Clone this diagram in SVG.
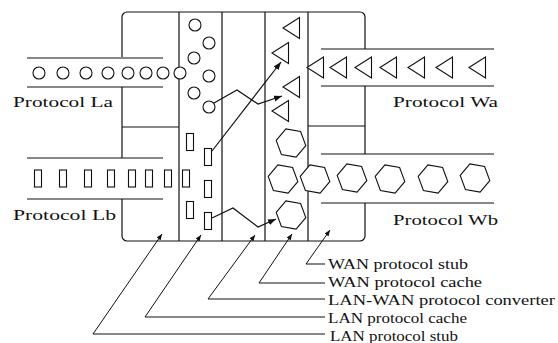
<svg xmlns="http://www.w3.org/2000/svg" xmlns:xlink="http://www.w3.org/1999/xlink" width="558" height="343" viewBox="0 0 558 343">
<style>
.ln{fill:none;stroke:#111;stroke-width:1.2}
.thin{fill:none;stroke:#111;stroke-width:1}
.sh{fill:#fff;stroke:#111;stroke-width:1.1}
.t{font-family:"Liberation Serif","Times New Roman",serif;font-size:15px;fill:#111}
</style>
<defs>
<marker id="ah" markerWidth="9" markerHeight="7" refX="8" refY="3" orient="auto" markerUnits="userSpaceOnUse"><path d="M0,0 L8,3 L0,6 z" fill="#111"/></marker>
<marker id="ahs" markerWidth="7" markerHeight="5" refX="6" refY="2.5" orient="auto" markerUnits="userSpaceOnUse"><path d="M0,0 L6,2.5 L0,5 z" fill="#111"/></marker>
<circle id="cir" r="6" class="sh"/>
<rect id="rc" x="-3.5" y="-8.5" width="7" height="17" class="sh"/>
<polygon id="tri" points="0,0 16.5,-10.5 16.5,10.5" class="sh"/>
<polygon id="hex" points="14.8,2.6 5.1,14.1 -9.6,11.5 -14.8,-2.6 -5.1,-14.1 9.6,-11.5" class="sh"/>
</defs>

<g id="frame">
<path class="ln" d="M122,57 V17 A5,5 0 0 1 127,12 H360 A5,5 0 0 1 365,17 V49 M365,86 V154 M365,203 V236 A5,5 0 0 1 360,241 H127 A5,5 0 0 1 122,236 V199 M122,158 V87"/>
<path class="ln" d="M179,12 V241 M222,12 V241 M265,12 V241 M308,12 V241 M122,127 H179 M308,126 H365"/>
</g>

<g id="protocol-la">
<path class="ln" d="M27,58 H163 M27,87 H163"/>
<use xlink:href="#cir" x="39" y="73"/><use xlink:href="#cir" x="63" y="73"/><use xlink:href="#cir" x="86" y="73"/><use xlink:href="#cir" x="108" y="73"/><use xlink:href="#cir" x="128" y="73"/><use xlink:href="#cir" x="146" y="73"/><use xlink:href="#cir" x="163" y="73"/><use xlink:href="#cir" x="180" y="73"/>
<text class="t" x="13" y="107" textLength="100" lengthAdjust="spacingAndGlyphs">Protocol La</text>
</g>

<g id="protocol-lb">
<path class="ln" d="M27,158 H163 M27,199 H163"/>
<use xlink:href="#rc" x="38" y="178.5"/><use xlink:href="#rc" x="63" y="178.5"/><use xlink:href="#rc" x="88" y="178.5"/><use xlink:href="#rc" x="111" y="178.5"/><use xlink:href="#rc" x="132" y="178.5"/><use xlink:href="#rc" x="149" y="178.5"/><use xlink:href="#rc" x="168" y="178.5"/><use xlink:href="#rc" x="186" y="178.5"/>
<text class="t" x="13" y="220" textLength="103" lengthAdjust="spacingAndGlyphs">Protocol Lb</text>
</g>

<g id="protocol-wa">
<path class="ln" d="M321,49 H494 M321,86 H494"/>
<use xlink:href="#tri" x="307" y="67.5"/><use xlink:href="#tri" x="330" y="67.5"/><use xlink:href="#tri" x="355" y="67.5"/><use xlink:href="#tri" x="380" y="67.5"/><use xlink:href="#tri" x="408" y="67.5"/><use xlink:href="#tri" x="436" y="67.5"/><use xlink:href="#tri" x="469" y="67.5"/>
<text class="t" x="393" y="107" textLength="105" lengthAdjust="spacingAndGlyphs">Protocol Wa</text>
</g>

<g id="protocol-wb">
<path class="ln" d="M321,154 H494 M321,203 H494"/>
<use xlink:href="#hex" x="315" y="179"/><use xlink:href="#hex" x="352" y="178"/><use xlink:href="#hex" x="390" y="179"/><use xlink:href="#hex" x="433" y="179"/><use xlink:href="#hex" x="475" y="178"/>
<text class="t" x="393" y="225" textLength="105" lengthAdjust="spacingAndGlyphs">Protocol Wb</text>
</g>

<g id="lan-cache">
<use xlink:href="#cir" x="195" y="25"/><use xlink:href="#cir" x="209" y="43"/><use xlink:href="#cir" x="194" y="58"/><use xlink:href="#cir" x="209" y="76"/><use xlink:href="#cir" x="194" y="93"/><use xlink:href="#cir" x="209" y="107"/>
<use xlink:href="#rc" x="190" y="142"/><use xlink:href="#rc" x="208" y="157"/><use xlink:href="#rc" x="208" y="189"/><use xlink:href="#rc" x="190" y="210"/><use xlink:href="#rc" x="208" y="221"/>
</g>

<g id="wan-cache">
<use xlink:href="#tri" x="283" y="28"/><use xlink:href="#tri" x="272" y="53"/><use xlink:href="#tri" x="283" y="87"/><use xlink:href="#tri" x="272" y="111"/>
<use xlink:href="#hex" x="291" y="143"/><use xlink:href="#hex" x="283" y="179"/><use xlink:href="#hex" x="291" y="215"/>
</g>

<g id="connectors">
<path class="ln" d="M214,103 L237,90 L258,104 L282,96" marker-end="url(#ah)"/>
<path class="ln" d="M212,151 L281,62" marker-end="url(#ah)"/>
<path class="ln" d="M212,218 L233,208 L258,227 L276,219" marker-end="url(#ah)"/>
<path class="thin" d="M325,264 H306 L330,230" marker-end="url(#ahs)"/>
<path class="thin" d="M325,283 H259 L292,234" marker-end="url(#ahs)"/>
<path class="thin" d="M325,299 H208 L255,235" marker-end="url(#ahs)"/>
<path class="thin" d="M325,317 H145 L201,235" marker-end="url(#ahs)"/>
<path class="thin" d="M325,334 H93 L162,234" marker-end="url(#ahs)"/>
</g>

<g id="labels">
<text class="t" x="328" y="269" textLength="140" lengthAdjust="spacingAndGlyphs">WAN protocol stub</text>
<text class="t" x="328" y="287" textLength="154" lengthAdjust="spacingAndGlyphs">WAN protocol cache</text>
<text class="t" x="328" y="305" textLength="227" lengthAdjust="spacingAndGlyphs">LAN-WAN protocol converter</text>
<text class="t" x="328" y="323" textLength="139" lengthAdjust="spacingAndGlyphs">LAN protocol cache</text>
<text class="t" x="330" y="341" textLength="128" lengthAdjust="spacingAndGlyphs">LAN protocol stub</text>
</g>
</svg>
